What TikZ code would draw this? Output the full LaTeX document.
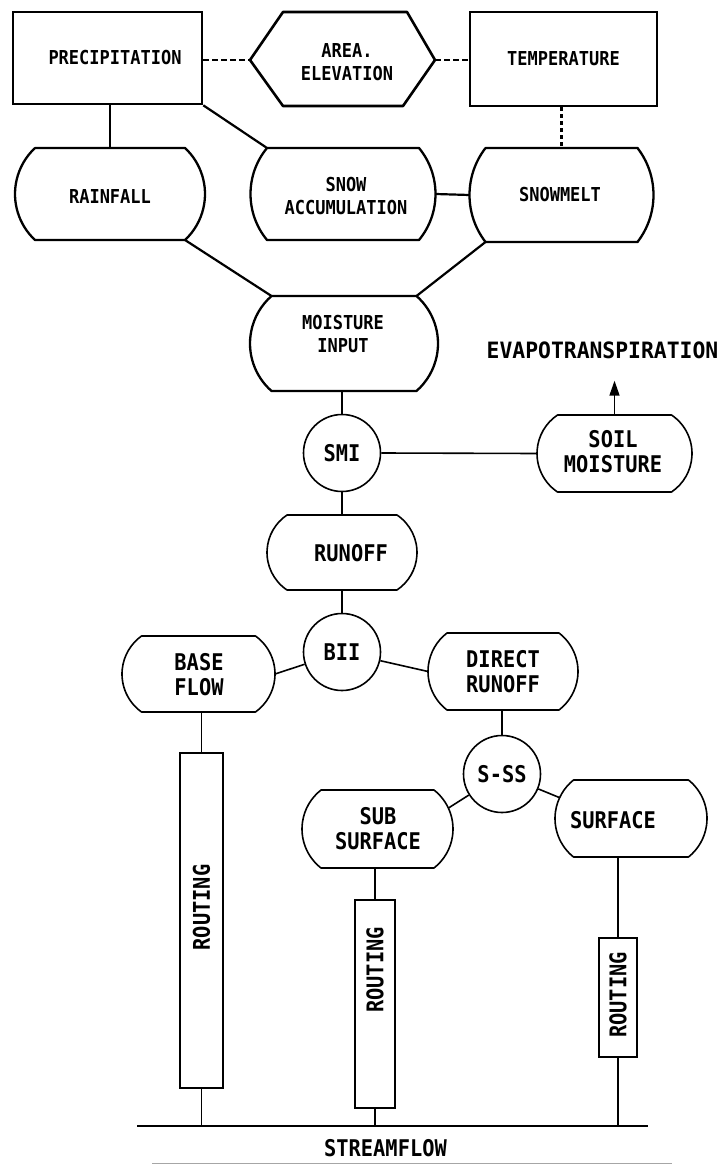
\documentclass[tikz,border=0pt]{standalone}
\usepackage{fontspec}
\usepackage{graphicx}
\usetikzlibrary{arrows.meta,calc}
\newfontfamily\dmono{DejaVu Sans Mono}[FakeStretch=0.885]
\newfontfamily\dmonoe{DejaVu Sans Mono}[FakeStretch=0.95]

\newcommand\barrel[9]{%
 \pgfmathsetmacro\brR{((#5)*(#5)+(#6)*(#6))/(2*(#6))}%
 \pgfmathsetmacro\brA{asin((#5)/\brR)}%
 \pgfmathsetmacro\brCr{(#2)+(#4)+(#6)-\brR}%
 \pgfmathsetmacro\brCl{(#2)-(#4)-(#6)+\brR}%
 \coordinate (#1-tl) at ({(#2)-(#4)},{-(#3)+(#5)});
 \coordinate (#1-tr) at ({(#2)+(#4)},{-(#3)+(#5)});
 \coordinate (#1-bl) at ({(#2)-(#4)},{-(#3)-(#5)});
 \coordinate (#1-br) at ({(#2)+(#4)},{-(#3)-(#5)});
 \coordinate (#1-t) at (#2,{-(#3)+(#5)});
 \coordinate (#1-b) at (#2,{-(#3)-(#5)});
 \coordinate (#1-l) at ({(#2)-(#4)-(#6)},{-(#3)});
 \coordinate (#1-r) at ({(#2)+(#4)+(#6)},{-(#3)});
 \coordinate (#1-ne) at ({\brCr+\brR*cos(25)},{-(#3)+\brR*sin(25)});
 \coordinate (#1-nw) at ({\brCl-\brR*cos(25)},{-(#3)+\brR*sin(25)});
 \draw[#7] (#1-tl) -- (#1-tr) arc[start angle=\brA, end angle=-\brA, radius=\brR pt] -- (#1-bl) arc[start angle={180+\brA}, end angle={180-\brA}, radius=\brR pt] -- cycle;
 \node[#7, draw=none] (#1) at (#8) {#9};
}

\tikzset{
 toptext/.style={font={\dmono\bfseries\fontsize{19.2}{22.5}\selectfont}, align=center, inner sep=0pt},
 lowtext/.style={font={\dmono\bfseries\fontsize{23}{25}\selectfont}, align=center, inner sep=0pt},
 topbar/.style={toptext, line width=2.3pt, line join=round},
 lowbar/.style={lowtext, line width=1.6pt, line join=round},
 rectbox/.style={toptext, draw, rectangle, line width=2.6pt},
 hexline/.style={line width=2.6pt, line join=round},
 circnode/.style={lowtext, draw, circle, minimum size=77pt, line width=1.6pt},
 routebox/.style={lowtext, draw, rectangle, line width=1.6pt},
 conntop/.style={line width=2.2pt},
 connlow/.style={line width=1.6pt},
 dashpat/.style={dash pattern=on 6pt off 3pt},
 dotpat/.style={dash pattern=on 4pt off 3pt},
 sfline/.style={line width=2pt},
 faint/.style={line width=0.8pt, gray!70},
}

\begin{document}
\begin{tikzpicture}[x=1pt,y=1pt]
\useasboundingbox (0,0) rectangle (720,-1166);
\fill[white] (0,0) rectangle (720,-1166);

% top row
\node[rectbox, minimum width=189pt, minimum height=92pt] (precip) at (107.5,-58) {\hspace*{15pt}PRECIPITATION};
\node[rectbox, minimum width=187pt, minimum height=94pt] (temp) at (563.5,-59) {TEMPERATURE};
\coordinate (area-l) at (250,-60);
\coordinate (area-tl) at (283,-12);
\coordinate (area-tr) at (407,-12);
\coordinate (area-r) at (435,-60);
\coordinate (area-br) at (403,-106);
\coordinate (area-bl) at (283,-106);
\draw[hexline] (area-l) -- (area-tl) -- (area-tr) -- (area-r) -- (area-br) -- (area-bl) -- cycle;
\node[toptext] (area) at (347,-62) {AREA.\\ELEVATION};

% second row
\barrel{rain}{110}{194}{75}{46}{20}{topbar}{110,-197}{RAINFALL}
\barrel{snow}{343}{194}{76}{46}{16.5}{topbar}{346,-196}{SNOW\\ACCUMULATION}
\barrel{smelt}{561.5}{195}{76}{47}{16}{topbar}{560,-195}{SNOWMELT}
\barrel{moist}{344}{343.5}{72.5}{47.5}{21.5}{topbar}{343,-334}{MOISTURE\\INPUT}

% middle
\node[circnode] (smi) at (342,-453) {SMI};
\barrel{soil}{614.5}{453.5}{57}{38.5}{20.5}{lowbar}{613,-452}{SOIL\\MOISTURE}
\node[lowtext, font={\dmonoe\bfseries\fontsize{22.5}{24}\selectfont}] (evap) at (602.5,-350) {EVAPOTRANSPIRATION};
\barrel{runoff}{342}{552.5}{55}{37.5}{20}{lowbar}{351,-553}{RUNOFF}
\node[circnode] (bii) at (342,-652) {BII};
\barrel{base}{198.5}{674}{57}{38}{19.5}{lowbar}{199,-675}{BASE\\FLOW}
\barrel{direct}{503}{671.5}{56}{38.5}{19}{lowbar}{503,-672}{DIRECT\\RUNOFF}
\node[circnode] (sss) at (502,-774) {S-SS};
\barrel{sub}{377.5}{829}{56.5}{39}{19}{lowbar}{378,-829}{SUB\\SURFACE}
\barrel{surf}{631}{818.5}{57.5}{38.5}{18.5}{lowbar}{613,-820}{SURFACE}

% routing boxes
\node[routebox, minimum width=43pt, minimum height=335pt] (r1) at (201.5,-920.5) {\rotatebox{90}{\hspace*{26pt}ROUTING}};
\node[routebox, minimum width=40pt, minimum height=208pt] (r2) at (375,-1004) {\rotatebox{90}{\hspace*{68pt}ROUTING}};
\node[routebox, minimum width=38pt, minimum height=119pt] (r3) at (618,-997.5) {\rotatebox{90}{\hspace*{5pt}ROUTING}};

% streamflow
\coordinate (sfl) at (137,-1126);
\coordinate (sfr) at (648,-1126);
\draw[sfline] (sfl) -- (sfr);
\node[lowtext] (sftext) at (385.5,-1148) {STREAMFLOW};
\coordinate (rulel) at (152,-1163);
\coordinate (ruler) at (672,-1163);
\draw[faint] (rulel) -- (ruler);

% connectors top
\draw[conntop] (precip.south -| rain-t) -- (rain-t);
\draw[conntop] (precip.south east) -- (snow-tl);
\draw[conntop, dashpat] (area-l -| precip.east) -- (area-l);
\draw[conntop, dashpat] (area-r) -- (area-r -| temp.west);
\draw[conntop, dotpat] (smelt-t |- temp.south) -- (smelt-t);
\draw[conntop] (snow-r) -- (smelt-l);
\draw[conntop] (rain-br) -- (moist-tl);
\draw[conntop] (smelt-bl) -- (moist-tr);

% connectors lower
\draw[connlow] (smi.north |- moist-b) -- (smi.north);
\draw[connlow] (smi.east) -- (soil-l);
\draw[connlow, -{Triangle[length=15pt,width=10pt]}] (soil-t) -- ([yshift=-22pt]soil-t |- evap.south);
\draw[connlow] (smi.south) -- (runoff-t);
\draw[connlow] (runoff-b) -- (bii.north);
\draw[connlow] (base-r) -- (bii);
\draw[connlow] (bii) -- (direct-l);
\draw[connlow] (sss.north |- direct-b) -- (sss.north);
\draw[connlow] (sss) -- (sub-ne);
\draw[connlow] (sss) -- (surf-nw);
\draw[connlow] (r1.north |- base-b) -- (r1.north);
\draw[connlow] (r2.north |- sub-b) -- (r2.north);
\draw[connlow] (r3.north |- surf-b) -- (r3.north);
\draw[connlow] (r1.south) -- (r1.south |- sfl);
\draw[connlow] (r2.south) -- (r2.south |- sfl);
\draw[connlow] (r3.south) -- (r3.south |- sfl);
\end{tikzpicture}
\end{document}
